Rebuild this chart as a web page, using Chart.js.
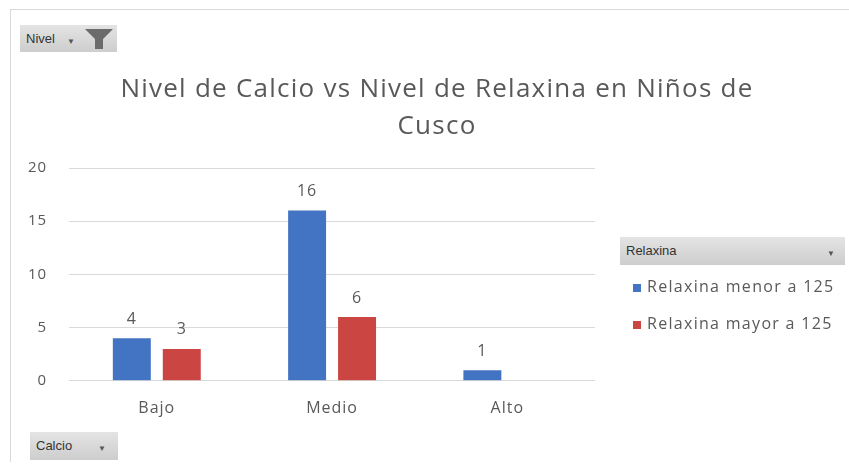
<!DOCTYPE html>
<html>
<head>
    <meta charset="utf-8">
    <title>Nivel de Calcio vs Nivel de Relaxina</title>
    <script src="https://cdn.jsdelivr.net/npm/chart.js"></script>
    <style>
        body { margin: 0; background: #fff; font-family: "Open Sans", sans-serif; }
        #marco { position: absolute; left: 10px; top: 9px; width: 845px; height: 452px; border-left: 1px solid #d9d9d9; border-top: 1px solid #d9d9d9; }
        #grafica { position: absolute; left: 0; top: 0; }
        .boton { position: absolute; background: linear-gradient(#e4e4e4, #cdcdcd); color: #333; font-size: 13px; font-family: "Liberation Sans", sans-serif; box-sizing: border-box; padding-left: 6px; }
        .flecha { position: absolute; font-size: 8px; color: #555; }
        #titulo { position: absolute; left: 62px; width: 750px; top: 69px; text-align: center; color: #595959; font-size: 26px; line-height: 37px; letter-spacing: 1.25px; }
        .item { position: absolute; left: 633px; font-size: 16px; color: #595959; white-space: nowrap; letter-spacing: 1.3px; }
        .item span { display: inline-block; width: 8px; height: 8px; margin-right: 6px; }
    </style>
</head>
<body>
    <div id="marco"></div>
    <canvas id="grafica" width="849" height="466"></canvas>
    <div id="titulo">Nivel de Calcio vs Nivel de Relaxina en Niños de<br>Cusco</div>

    <div class="boton" style="left:20px;top:25px;width:97px;height:27px;line-height:27px;">Nivel</div>
    <div class="flecha" style="left:67px;top:35px;">&#9660;</div>
    <svg style="position:absolute;left:84px;top:28px;" width="30" height="22"><polygon points="1,1 29,1 19,11 19,21 11,21 11,11" fill="#6b6b6b"/></svg>

    <div class="boton" style="left:30px;top:432px;width:88px;height:28px;line-height:28px;">Calcio</div>
    <div class="flecha" style="left:98px;top:442px;">&#9660;</div>

    <div class="boton" style="left:620px;top:237px;width:225px;height:28px;line-height:28px;">Relaxina</div>
    <div class="flecha" style="left:827px;top:247px;">&#9660;</div>
    <div id="leyenda"></div>

    <script>
        // Datos de la tabla dinámica
        const categorias = ['Bajo', 'Medio', 'Alto'];
        const relaxinaMenor = [4, 16, 1];
        const relaxinaMayor = [3, 6, null];
        const nombresSeries = ['Relaxina menor a 125', 'Relaxina mayor a 125'];
        const colores = ['#4374c4', '#cb4642'];
        const ticksY = [0, 5, 10, 15, 20];

        // Leyenda hecha a mano (estilo Excel)
        const leyenda = document.getElementById('leyenda');
        nombresSeries.forEach(function (nombre, i) {
            const d = document.createElement('div');
            d.className = 'item';
            d.style.top = (275 + i * 37) + 'px';
            d.innerHTML = '<span style="background:' + colores[i] + '"></span>' + nombre;
            leyenda.appendChild(d);
        });

        // Espaciado de letras parecido al de Excel
        const espaciado = {
            id: 'espaciado',
            beforeInit(chart) { chart.ctx.letterSpacing = '1px'; },
            beforeDraw(chart) { chart.ctx.letterSpacing = '1px'; }
        };

        // Plugin para las etiquetas de datos encima de cada barra
        const etiquetas = {
            id: 'etiquetas',
            afterDatasetsDraw(chart) {
                const ctx = chart.ctx;
                ctx.save();
                ctx.fillStyle = '#595959';
                ctx.font = '16px "Open Sans"';
                ctx.textAlign = 'center';
                ctx.textBaseline = 'bottom';
                chart.data.datasets.forEach(function (ds, i) {
                    chart.getDatasetMeta(i).data.forEach(function (bar, j) {
                        if (ds.data[j] == null) return;
                        ctx.fillText(ds.data[j], bar.x, bar.y - 11);
                    });
                });
                ctx.restore();
            }
        };

        const ctx = document.getElementById('grafica').getContext('2d');
        const chart = new Chart(ctx, {
            type: 'bar',
            data: {
                labels: categorias,
                datasets: [
                    { label: nombresSeries[0], data: relaxinaMenor, backgroundColor: colores[0] },
                    { label: nombresSeries[1], data: relaxinaMayor, backgroundColor: colores[1] }
                ]
            },
            options: {
                responsive: false,
                animation: false,
                layout: { padding: { top: 168, left: 8, right: 254, bottom: 38 } },
                datasets: { bar: { categoryPercentage: 0.57, barPercentage: 0.76 } },
                plugins: { legend: { display: false }, tooltip: { enabled: false } },
                scales: {
                    x: {
                        grid: { display: false },
                        border: { display: false },
                        ticks: { color: '#595959', font: { family: 'Open Sans', size: 16 }, padding: 10 }
                    },
                    y: {
                        min: 0,
                        max: 20,
                        afterBuildTicks: function (axis) { axis.ticks = ticksY.map(function (v) { return { value: v }; }); },
                        grid: { color: '#d9d9d9', drawTicks: false },
                        border: { display: false },
                        ticks: { color: '#595959', font: { family: 'Open Sans', size: 15 }, padding: 22 }
                    }
                }
            },
            plugins: [espaciado, etiquetas]
        });
    </script>
</body>
</html>
